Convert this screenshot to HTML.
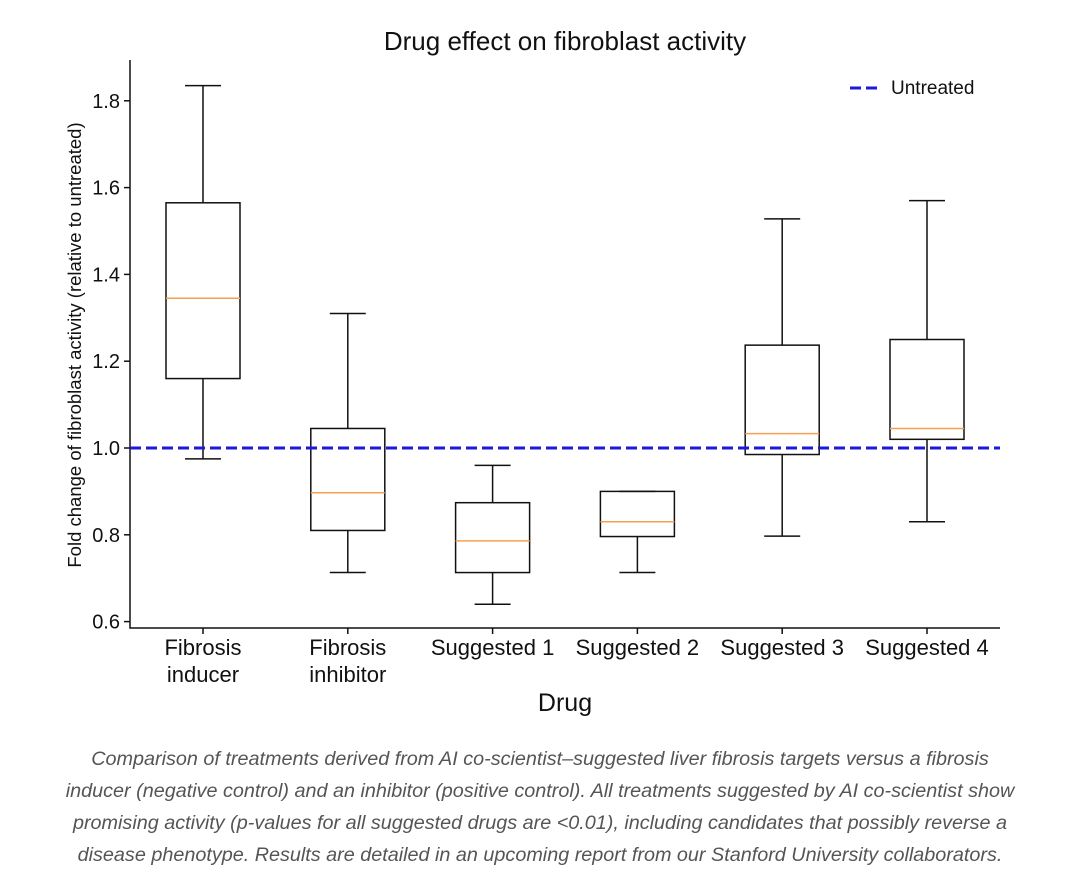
<!DOCTYPE html>
<html><head><meta charset="utf-8"><style>
body{margin:0;background:#fff;width:1080px;height:885px;overflow:hidden;font-family:"Liberation Sans",sans-serif}
#cap{position:absolute;left:0;top:743px;width:1080px;text-align:center;font-style:italic;color:#555;font-size:19.8px;line-height:32px;white-space:nowrap}
</style></head><body>
<svg id="chart" width="1080" height="740" style="position:absolute;left:0;top:0" font-family="Liberation Sans, sans-serif"></svg>
<div id="cap">Comparison of treatments derived from AI co-scientist–suggested liver fibrosis targets versus a fibrosis<br>inducer (negative control) and an inhibitor (positive control). All treatments suggested by AI co-scientist show<br>promising activity (p-values for all suggested drugs are &lt;0.01), including candidates that possibly reverse a<br>disease phenotype. Results are detailed in an upcoming report from our Stanford University collaborators.</div>
<script>
const categories=[["Fibrosis","inducer"],["Fibrosis","inhibitor"],["Suggested 1"],["Suggested 2"],["Suggested 3"],["Suggested 4"]];
const whiskerLow=[0.975,0.713,0.64,0.713,0.797,0.83];
const q1=[1.16,0.81,0.713,0.796,0.985,1.02];
const medians=[1.345,0.897,0.786,0.83,1.033,1.045];
const q3=[1.565,1.045,0.874,0.9,1.237,1.25];
const whiskerHigh=[1.835,1.31,0.96,0.9,1.528,1.57];
const yTicks=[0.6,0.8,1.0,1.2,1.4,1.6,1.8];
const untreated=1.0;
const NS="http://www.w3.org/2000/svg";
const svg=document.getElementById('chart');
const y=v=>448-(v-1)*434;
const x=i=>203+i*144.8;
function mk(t,a,p){const e=document.createElementNS(NS,t);for(const k in a)e.setAttribute(k,a[k]);(p||svg).appendChild(e);return e;}
let t=mk('text',{x:565,y:50,'text-anchor':'middle','font-size':26,fill:'#111'});t.textContent='Drug effect on fibroblast activity';


let ax=mk('path',{d:'M130,60 V628 H1000',stroke:'#111','stroke-width':1.5,fill:'none'});


yTicks.forEach(v=>{
 const l=mk('line',{x1:124,x2:130,y1:y(v),y2:y(v),stroke:'#111','stroke-width':1.5});
 
 
 const tx=mk('text',{x:120,y:y(v)+7,'text-anchor':'end','font-size':20,fill:'#111'});tx.textContent=v.toFixed(1);
 
 
});
t=mk('text',{transform:'translate(81,345) rotate(-90)','text-anchor':'middle','font-size':18.5,fill:'#111'});t.textContent='Fold change of fibroblast activity (relative to untreated)';


t=mk('text',{x:565,y:711,'text-anchor':'middle','font-size':25,fill:'#111'});t.textContent='Drug';


const hw=37;
categories.forEach((c,i)=>{
 const cx=x(i);
 const g=mk('g',{});
 
 
 mk('line',{x1:cx,x2:cx,y1:y(whiskerLow[i]),y2:y(q1[i]),stroke:'#111','stroke-width':1.5},g);
 mk('line',{x1:cx,x2:cx,y1:y(q3[i]),y2:y(whiskerHigh[i]),stroke:'#111','stroke-width':1.5},g);
 mk('line',{x1:cx-18,x2:cx+18,y1:y(whiskerLow[i]),y2:y(whiskerLow[i]),stroke:'#111','stroke-width':1.5},g);
 mk('line',{x1:cx-18,x2:cx+18,y1:y(whiskerHigh[i]),y2:y(whiskerHigh[i]),stroke:'#111','stroke-width':1.5},g);
 mk('rect',{x:cx-hw,y:y(q3[i]),width:2*hw,height:y(q1[i])-y(q3[i]),fill:'none',stroke:'#111','stroke-width':1.5},g);
 mk('line',{x1:cx-hw,x2:cx+hw,y1:y(medians[i]),y2:y(medians[i]),stroke:'#f5a050','stroke-width':1.5},g);
 mk('line',{x1:cx,x2:cx,y1:628,y2:634,stroke:'#111','stroke-width':1.5},g);
 c.forEach((s,j)=>{const tx=mk('text',{x:cx,y:655+j*27,'text-anchor':'middle','font-size':22,fill:'#111'},g);tx.textContent=s;});
});
let d=mk('line',{x1:130,x2:1000,y1:y(untreated),y2:y(untreated),stroke:'#1a1adb','stroke-width':3,'stroke-dasharray':'11,5'});


const lg=mk('g',{});


mk('line',{x1:850,x2:878,y1:88,y2:88,stroke:'#1a1adb','stroke-width':3,'stroke-dasharray':'11,5'},lg);
t=mk('text',{x:891,y:94,'font-size':19,fill:'#111'},lg);t.textContent='Untreated';
</script>
</body></html>
